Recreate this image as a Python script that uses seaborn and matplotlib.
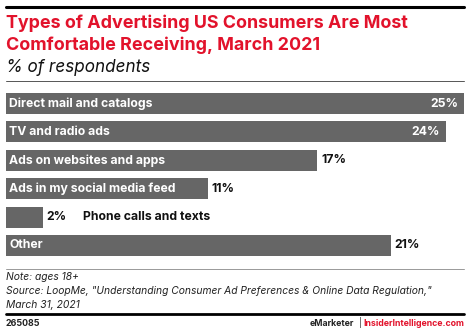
import matplotlib
matplotlib.use("Agg")
import matplotlib.pyplot as plt
from matplotlib.lines import Line2D
import seaborn as sns
import pandas as pd

categories = ["Direct mail and catalogs", "TV and radio ads", "Ads on websites and apps",
              "Ads in my social media feed", "Phone calls and texts", "Other"]
values = [25, 24, 17, 11, 2, 21]
value_labels = ["25%", "24%", "17%", "11%", "2%", "21%"]

title_lines = ["Types of Advertising US Consumers Are Most",
               "Comfortable Receiving, March 2021"]
subtitle = "% of respondents"
note_lines = ["Note: ages 18+",
              "Source: LoopMe, \"Understanding Consumer Ad Preferences & Online Data Regulation,\"",
              "March 31, 2021"]
chart_id = "265085"

sns.set_theme(style="white")
plt.rcParams['font.family'] = ['Inter', 'DejaVu Sans']

W, H = 470, 334
fig = plt.figure(figsize=(W / 100, H / 100), dpi=100)

def fx(px):
    return px / W

def fy(py):
    return 1 - py / H

RED = "#e2122b"
BAR = "#666666"

ax = fig.add_axes([fx(6), fy(259.7), fx(458), (259.7 - 89.3) / H])
df = pd.DataFrame({"cat": categories, "val": values})
sns.barplot(data=df, x="val", y="cat", orient="h", color=BAR, saturation=1,
            width=0.74, ax=ax, edgecolor="none")
ax.set_xlim(0, 25)
ax.set_ylim(len(categories) - 0.5, -0.5)
ax.axis("off")

FS = 8.8
for i, (c, v, lab) in enumerate(zip(categories, values, value_labels)):
    if v >= 5:
        ax.text(0.17, i, c, color="white", fontsize=FS, fontweight="bold",
                va="center", ha="left")
    if v >= 22:
        ax.text(v - 0.3, i, lab, color="white", fontsize=FS, fontweight="bold",
                va="center", ha="right")
    else:
        ax.text(v + 0.2, i, lab, color="#111111", fontsize=FS, fontweight="bold",
                va="center", ha="left")
    if v < 5:
        ax.text(4.2, i, c, color="#111111", fontsize=FS, fontweight="bold",
                va="center", ha="left")

# top thick line
fig.add_artist(Line2D([fx(6), fx(464)], [fy(6.5), fy(6.5)], color="black", lw=2.2))
for k, line in enumerate(title_lines):
    fig.text(fx(6), fy(28 + 22 * k), line, color=RED, fontsize=12.9, fontweight="bold",
             ha="left", va="baseline")
fig.text(fx(6), fy(72), subtitle, color="#111111", fontsize=12.3, fontstyle="italic",
         ha="left", va="baseline")
fig.add_artist(Line2D([fx(6), fx(464)], [fy(80.5), fy(80.5)], color="#555555", lw=0.7))

fig.add_artist(Line2D([fx(6), fx(464)], [fy(269), fy(269)], color="#999999", lw=0.7))
for k, line in enumerate(note_lines):
    fig.text(fx(6), fy(280 + 14 * k), line, color="#222222", fontsize=7.4,
             fontstyle="italic", ha="left", va="baseline")
fig.add_artist(Line2D([fx(6), fx(464)], [fy(313.5), fy(313.5)], color="black", lw=2.0))
fig.text(fx(6), fy(326), chart_id, color="#222222", fontsize=6.4, fontweight="bold",
         ha="left", va="baseline")
fig.text(fx(464), fy(326), "InsiderIntelligence.com", color=RED, fontsize=6.3,
         fontweight="bold", ha="right", va="baseline")
fig.text(fx(360), fy(326), "|", color="#222222", fontsize=6.3,
         ha="center", va="baseline")
fig.text(fx(354), fy(326), "eMarketer", color="#222222", fontsize=6.3,
         fontweight="bold", ha="right", va="baseline")

fig.savefig("out.png", dpi=100)
